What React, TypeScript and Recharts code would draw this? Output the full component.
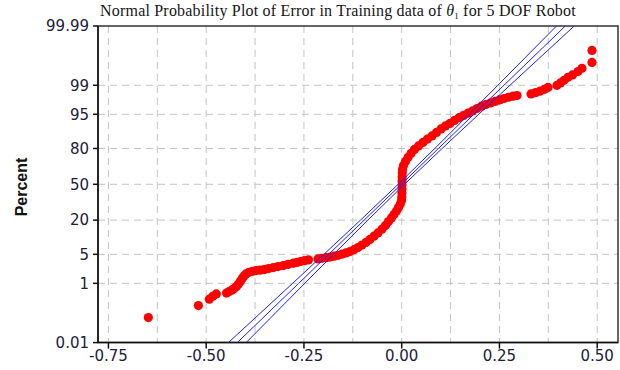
import React from 'react';
import {
  ScatterChart,
  Scatter,
  XAxis,
  YAxis,
  CartesianGrid,
  ReferenceArea,
} from 'recharts';

// ---------- data ----------
const errorValues = [
  -0.648, -0.52, -0.492, -0.483, -0.474,
  -0.448, -0.442, -0.435, -0.429, -0.4225, -0.4174, -0.4128, -0.4084, -0.4038, -0.3982, -0.3905, -0.3816,
  -0.3726, -0.3624, -0.3522, -0.3407, -0.3284, -0.3164, -0.3028, -0.2908, -0.2772, -0.2678, -0.2588, -0.2486, -0.2384,
  -0.2141, -0.2038, -0.1936, -0.1834, -0.1731, -0.1629, -0.1527, -0.1425, -0.1322, -0.122, -0.1118, -0.1015, -0.0913,
  -0.0811, -0.0708, -0.0606, -0.0504, -0.0414, -0.0338, -0.0261, -0.0197, -0.0133, -0.0082, -0.0036, -0.0005,
  0.0003, 0.0005, 0.0007, 0.0008, 0.001, 0.0012, 0.0015, 0.002,
  0.0046, 0.0097, 0.0161, 0.0238, 0.0327, 0.043, 0.0545, 0.066, 0.0775, 0.089, 0.1005, 0.112, 0.1235, 0.135,
  0.1465, 0.1581, 0.1696, 0.1811, 0.1926, 0.2041, 0.2156, 0.2271, 0.2386, 0.2501, 0.2616, 0.2731, 0.2847, 0.2949,
  0.3307, 0.3422, 0.3537, 0.3652, 0.3742, 0.3972, 0.4061, 0.4151, 0.4253, 0.4368, 0.4509, 0.4611, 0.4867, 0.4867,
];

const percentValues = [
  0.087, 0.219, 0.347, 0.426, 0.5,
  0.53, 0.582, 0.643, 0.712, 0.818, 0.951, 1.126, 1.33, 1.544, 1.765, 1.934, 2.049,
  2.131, 2.182, 2.239, 2.383, 2.519, 2.659, 2.809, 2.996, 3.188, 3.329, 3.487, 3.634, 3.791,
  3.981, 4.105, 4.232, 4.358, 4.565, 4.771, 5.032, 5.352, 5.699, 6.219, 6.883, 7.657, 8.619,
  9.769, 11.13, 12.68, 14.57, 16.71, 19.06, 21.51, 23.98, 26.61, 29.36, 32.26, 35.28,
  38.36, 42.0, 45.7, 49.44, 53.19, 56.91, 60.57, 63.68,
  67.15, 70.47, 73.63, 76.6, 79.38, 81.65, 83.74, 85.58, 87.22, 88.85, 90.35, 91.49, 92.37, 93.33,
  94.12, 94.72, 95.26, 95.77, 96.25, 96.67, 96.97, 97.21, 97.43, 97.63, 97.81, 97.96, 98.08, 98.15,
  98.31, 98.43, 98.565, 98.72, 98.86, 99.0, 99.14, 99.27, 99.4, 99.49, 99.597, 99.68, 99.79, 99.917,
];

// fitted normal line and its confidence bounds
const fitPercent = [0.01, 1, 5, 20, 50, 80, 95, 99, 99.99];
const fitCenter = [-0.4205, -0.2634, -0.1866, -0.096, -0.001, 0.094, 0.1846, 0.2614, 0.4185];
const fitLower = [-0.4432, -0.2789, -0.199, -0.1054, -0.0091, 0.0846, 0.1722, 0.2459, 0.3958];
const fitUpper = [-0.3978, -0.2479, -0.1742, -0.0866, 0.0071, 0.1034, 0.197, 0.2769, 0.4412];

// axes
const xTicks = [-0.75, -0.5, -0.25, 0, 0.25, 0.5];
const xGridValues = [-0.75, -0.625, -0.5, -0.375, -0.25, -0.125, 0, 0.125, 0.25, 0.375, 0.5];
const yTickPercents = [0.01, 1, 5, 20, 50, 80, 95, 99, 99.99];
const yTickLabels = ['0.01', '1', '5', '20', '50', '80', '95', '99', '99.99'];
const yGridPercents = [1, 5, 20, 50, 80, 95, 99];

// ---------- probit scale helper ----------
function probit(p: number): number {
  const a = [-3.969683028665376e1, 2.209460984245205e2, -2.759285104469687e2, 1.38357751867269e2, -3.066479806614716e1, 2.506628277459239];
  const b = [-5.447609879822406e1, 1.615858368580409e2, -1.556989798598866e2, 6.680131188771972e1, -1.328068155288572e1];
  const c = [-7.784894002430293e-3, -3.223964580411365e-1, -2.400758277161838, -2.549732539343734, 4.374664141464968, 2.938163982698783];
  const d = [7.784695709041462e-3, 3.224671290700398e-1, 2.445134137142996, 3.754408661907416];
  const pl = 0.02425;
  if (p < pl) {
    const q = Math.sqrt(-2 * Math.log(p));
    return (((((c[0] * q + c[1]) * q + c[2]) * q + c[3]) * q + c[4]) * q + c[5]) / ((((d[0] * q + d[1]) * q + d[2]) * q + d[3]) * q + 1);
  }
  if (p <= 1 - pl) {
    const q = p - 0.5;
    const r = q * q;
    return ((((((a[0] * r + a[1]) * r + a[2]) * r + a[3]) * r + a[4]) * r + a[5]) * q) / (((((b[0] * r + b[1]) * r + b[2]) * r + b[3]) * r + b[4]) * r + 1);
  }
  const q = Math.sqrt(-2 * Math.log(1 - p));
  return -(((((c[0] * q + c[1]) * q + c[2]) * q + c[3]) * q + c[4]) * q + c[5]) / ((((d[0] * q + d[1]) * q + d[2]) * q + d[3]) * q + 1);
}

const X_MIN = -0.7767;
const X_MAX = 0.5532;
const Y_MIN = probit(0.0001);
const Y_MAX = probit(0.9999);

const yTicks = yTickPercents.map((p) => probit(p / 100));

const points = errorValues.map((e, i) => ({ x: e, y: probit(percentValues[i] / 100) }));
const makeLine = (xs: number[]) => xs.map((x, i) => ({ x, y: probit(fitPercent[i] / 100) }));
const centerLine = makeLine(fitCenter);
const lowerLine = makeLine(fitLower);
const upperLine = makeLine(fitUpper);

const BLUE = '#1f1fff';

const RedDot = (props: any) => {
  if (props.cx == null || props.cy == null) return <g />;
  return <circle cx={props.cx} cy={props.cy} r={4.6} fill="#ff0000" />;
};
const NoDot = () => <g />;

// draws the polyline through the scatter's own scaled points
const BlueLine = (props: any) => {
  const pts: any[] = props && props.points ? props.points : [];
  const str = pts
    .filter((p) => p && p.x != null && p.y != null)
    .map((p) => `${p.x},${p.y}`)
    .join(' ');
  return <polyline points={str} fill="none" stroke={BLUE} strokeWidth={1} />;
};

const tickStyle = { fill: '#20203a', fontSize: 15, fontFamily: 'DejaVu Sans' };

export default function App() {
  return (
    <div style={{ position: 'absolute', left: 0, top: 0, width: 620, height: 370, background: '#fff' }}>
      <ScatterChart width={620} height={370} margin={{ top: 26, right: 2, bottom: 0, left: 0 }}>
        <CartesianGrid
          stroke="#c4c4c4"
          strokeDasharray="7 5"
          verticalCoordinatesGenerator={(args: any) =>
            xGridValues.map((v) =>
              args && args.xAxis && typeof args.xAxis.scale === 'function'
                ? args.xAxis.scale(v)
                : args.offset.left + ((v - X_MIN) / (X_MAX - X_MIN)) * args.offset.width
            )
          }
          horizontalCoordinatesGenerator={(args: any) =>
            yGridPercents.map((p) => {
              const z = probit(p / 100);
              return args && args.yAxis && typeof args.yAxis.scale === 'function'
                ? args.yAxis.scale(z)
                : args.offset.top + ((Y_MAX - z) / (Y_MAX - Y_MIN)) * args.offset.height;
            })
          }
        />
        <XAxis
          type="number"
          dataKey="x"
          domain={[X_MIN, X_MAX]}
          ticks={xTicks}
          interval={0}
          allowDataOverflow
          height={27.4}
          tickFormatter={(v: number) => v.toFixed(2)}
          axisLine={{ stroke: '#111', strokeWidth: 1.5 }}
          tickLine={{ stroke: '#111', strokeWidth: 1.5 }}
          tickSize={6}
          tickMargin={2}
          tick={tickStyle}
        />
        <YAxis
          type="number"
          dataKey="y"
          domain={[Y_MIN, Y_MAX]}
          ticks={yTicks}
          interval={0}
          allowDataOverflow
          width={98}
          tickFormatter={(v: number) => {
            const i = yTicks.findIndex((t) => Math.abs(t - v) < 1e-6);
            return i >= 0 ? yTickLabels[i] : '';
          }}
          axisLine={{ stroke: '#111', strokeWidth: 1.5 }}
          tickLine={{ stroke: '#111', strokeWidth: 1.5 }}
          tickSize={5}
          tickMargin={4}
          tick={tickStyle}
        />
        <ReferenceArea
          x1={X_MIN}
          x2={X_MAX}
          y1={Y_MIN}
          y2={Y_MAX}
          fill="none"
          fillOpacity={0}
          stroke="#333"
          strokeWidth={1.5}
          ifOverflow="visible"
        />
        <Scatter data={points} fill="#ff0000" shape={RedDot} isAnimationActive={false} />
        <Scatter data={lowerLine} fill={BLUE} line={BlueLine} shape={NoDot} isAnimationActive={false} />
        <Scatter data={centerLine} fill={BLUE} line={BlueLine} shape={NoDot} isAnimationActive={false} />
        <Scatter data={upperLine} fill={BLUE} line={BlueLine} shape={NoDot} isAnimationActive={false} />
      </ScatterChart>
      <svg width={620} height={370} style={{ position: 'absolute', left: 0, top: 0, pointerEvents: 'none' }}>
        <text x={100} y={16} fontFamily="Liberation Serif" fontSize={16} letterSpacing={0.2} fill="#151515">
          Normal Probability Plot of Error in Training data of{' '}
          <tspan fontStyle="italic">θ</tspan>
          <tspan fontSize={9} dy={3}>1</tspan>
          <tspan dy={-3}> for 5 DOF Robot</tspan>
        </text>
        <text
          transform="translate(26.5,187) rotate(-90)"
          textAnchor="middle"
          fontFamily="Liberation Sans"
          fontWeight="bold"
          fontSize={16}
          fill="#111"
        >
          Percent
        </text>
      </svg>
    </div>
  );
}
